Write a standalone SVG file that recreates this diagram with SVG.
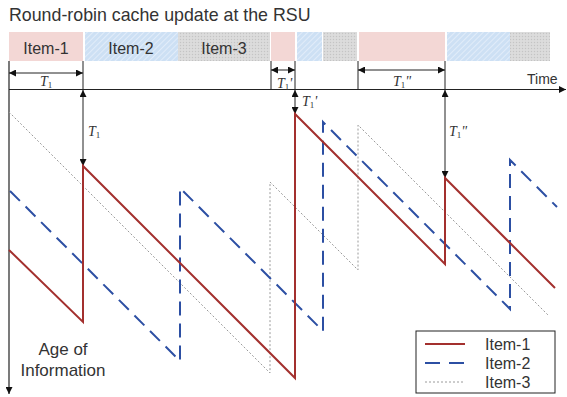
<svg xmlns="http://www.w3.org/2000/svg" width="567" height="397" viewBox="0 0 567 397">
<defs>
<pattern id="hatch" patternUnits="userSpaceOnUse" width="4" height="4" patternTransform="rotate(45)">
<rect width="4" height="4" fill="#cde0f4"/>
<line x1="0" y1="0" x2="0" y2="4" stroke="#e8f1fb" stroke-width="1.5"/>
</pattern>
<pattern id="dots" patternUnits="userSpaceOnUse" width="3" height="3">
<rect width="3" height="3" fill="#d9d9d9"/>
<rect x="0" y="0" width="1" height="1" fill="#c4c4c4"/>
<rect x="1.5" y="1.5" width="1" height="1" fill="#e6e6e6"/>
</pattern>
<marker id="ah" viewBox="0 0 10 10" refX="10" refY="5" markerWidth="9" markerHeight="7" markerUnits="userSpaceOnUse" orient="auto-start-reverse">
<path d="M0,0 L10,5 L0,10 z" fill="#111"/>
</marker>
</defs>
<style>
.lbl{font-family:"Liberation Sans",Arial,sans-serif;font-size:16px;fill:#333}
.it{font-family:"Liberation Serif","Times New Roman",serif;font-style:italic;font-size:14px;fill:#333}
.sub{font-size:9px;font-style:normal}
.ax{stroke:#222;stroke-width:1.2;fill:none}
.dim{stroke:#222;stroke-width:1;fill:none}
.i1{stroke:#a3302e;stroke-width:2;fill:none}
.i2{stroke:#2c4fa3;stroke-width:2;fill:none;stroke-dasharray:14 8}
.i3{stroke:#9a9a9a;stroke-width:1;fill:none;stroke-dasharray:2 2}
</style>
<text class="lbl" x="9" y="21" style="font-size:17.8px">Round-robin cache update at the RSU</text>
<g id="schedule">
<rect x="9" y="32" width="74" height="29" fill="#f3d7d5"/>
<rect x="85" y="32" width="93" height="29" fill="url(#hatch)"/>
<rect x="178" y="32" width="92" height="29" fill="url(#dots)"/>
<rect x="271" y="32" width="24" height="29" fill="#f3d7d5"/>
<rect x="297" y="32" width="25" height="29" fill="url(#hatch)"/>
<rect x="323" y="32" width="34" height="29" fill="url(#dots)"/>
<rect x="359" y="32" width="86" height="29" fill="#f3d7d5"/>
<rect x="447" y="32" width="63" height="29" fill="url(#hatch)"/>
<rect x="510" y="32" width="40" height="29" fill="url(#dots)"/>
<text class="lbl" x="46" y="54" text-anchor="middle">Item-1</text>
<text class="lbl" x="131" y="54" text-anchor="middle">Item-2</text>
<text class="lbl" x="224" y="54" text-anchor="middle">Item-3</text>
</g>
<g id="axes">
<line class="ax" x1="9" y1="61" x2="9" y2="394" marker-end="url(#ah)"/>
<line class="ax" x1="9" y1="89.5" x2="566" y2="89.5" marker-end="url(#ah)"/>
<text class="lbl" x="527" y="84" style="font-size:14px">Time</text>
<text class="lbl" x="63" y="355" text-anchor="middle" style="font-size:17px">Age of</text>
<text class="lbl" x="63" y="376" text-anchor="middle" style="font-size:17px">Information</text>
</g>
<g id="connectors">
<line class="dim" x1="83" y1="61" x2="83" y2="89"/>
<line class="dim" x1="271" y1="61" x2="271" y2="89"/>
<line class="dim" x1="295" y1="61" x2="295" y2="89"/>
<line class="dim" x1="358" y1="61" x2="358" y2="89"/>
<line class="dim" x1="445" y1="61" x2="445" y2="89"/>
<line class="dim" x1="9" y1="73" x2="83" y2="73" marker-start="url(#ah)" marker-end="url(#ah)"/>
<line class="dim" x1="271" y1="70" x2="295" y2="70" marker-start="url(#ah)" marker-end="url(#ah)"/>
<line class="dim" x1="358" y1="70" x2="445" y2="70" marker-start="url(#ah)" marker-end="url(#ah)"/>
<line class="dim" x1="83" y1="90" x2="83" y2="166" marker-start="url(#ah)" marker-end="url(#ah)"/>
<line class="dim" x1="295" y1="90" x2="295" y2="114" marker-start="url(#ah)" marker-end="url(#ah)"/>
<line class="dim" x1="445" y1="90" x2="445" y2="178" marker-start="url(#ah)" marker-end="url(#ah)"/>
</g>
<g id="dim-labels">
<text class="it" x="40" y="86">T<tspan class="sub" dy="2">1</tspan></text>
<text class="it" x="277" y="88">T<tspan class="sub" dy="2">1</tspan><tspan dy="-2">'</tspan></text>
<text class="it" x="393" y="86">T<tspan class="sub" dy="2">1</tspan><tspan dy="-2">"</tspan></text>
<text class="it" x="88" y="136">T<tspan class="sub" dy="2">1</tspan></text>
<text class="it" x="302" y="106">T<tspan class="sub" dy="2">1</tspan><tspan dy="-2">'</tspan></text>
<text class="it" x="449" y="136">T<tspan class="sub" dy="2">1</tspan><tspan dy="-2">"</tspan></text>
</g>
<g id="item3">
<polyline class="i3" points="9,112 270,373 270,182 358,270 358,125 549,316"/>
</g>
<g id="item2">
<polyline class="i2" points="10,191 180,361 180,188 323,331 323,122 510,309 510,160 557,207"/>
</g>
<g id="item1">
<polyline class="i1" points="9,250 83,322 83,166 295,378 295,114 445,264 445,178 555,288"/>
</g>
<g id="legend">
<rect x="416" y="331" width="139" height="62" fill="#fff" stroke="#222" stroke-width="1"/>
<line class="i1" x1="425" y1="344" x2="465" y2="344"/>
<line class="i2" x1="425" y1="363" x2="465" y2="363" style="stroke-dasharray:15 9"/>
<line class="i3" x1="425" y1="382" x2="465" y2="382"/>
<text class="lbl" x="485" y="350">Item-1</text>
<text class="lbl" x="485" y="369">Item-2</text>
<text class="lbl" x="485" y="388">Item-3</text>
</g>
</svg>
